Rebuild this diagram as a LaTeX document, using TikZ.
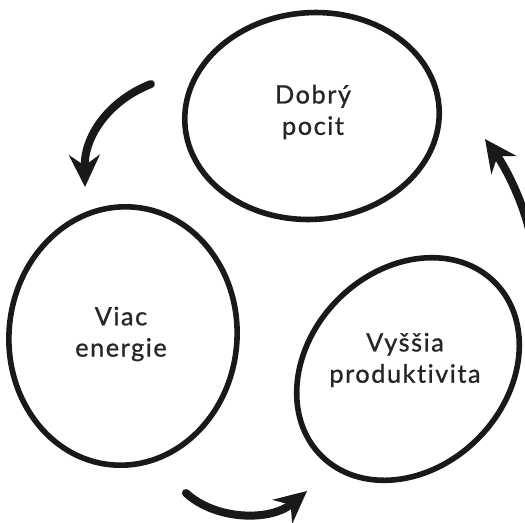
\documentclass[tikz,border=0pt]{standalone}
\usepackage{fontspec}
\setmainfont{Lato}[LetterSpace=6,FakeBold=0.9,Ligatures={NoCommon,NoRare}]
\usetikzlibrary{shapes.geometric,arrows.meta}

\begin{document}
\begin{tikzpicture}[x=0.75pt,y=-0.75pt]
	\tikzstyle{cycle_node}=[draw=black!90,ellipse,line width=4.2pt,inner sep=0pt]
	\tikzstyle{cycle_text}=[align=center,text=black!85,font=\fontsize{19}{23.5}\selectfont]
	\tikzstyle{cycle_arrow}=[line width=6pt,black!90,line cap=round,-{Stealth[length=24pt,width=23pt,inset=8pt]}]
	\clip (0,0) rectangle (525,522);
	\node [cycle_node,minimum width=191pt,minimum height=155pt,rotate=4] (d) at (312,116) {};
	\node [cycle_node,minimum width=171pt,minimum height=194pt,rotate=-5] (v) at (123,336) {};
	\node [cycle_node,minimum width=184pt,minimum height=148pt,rotate=45] (p) at (408,369) {};
	\node [cycle_text] (dt) at (313,112) {Dobrý\\pocit};
	\node [cycle_text] (vt) at (121,334) {Viac\\energie};
	\node [cycle_text] (pt) at (405,360) {Vyššia\\produktivita};
	\coordinate (s1) at (151,84);
	\coordinate (e1) at (85,187);
	\coordinate (s2) at (186,493);
	\coordinate (e2) at (307,491);
	\coordinate (s3) at (533,250);
	\coordinate (e3) at (485,139);
	\draw [cycle_arrow] (s1) .. controls (110,100) and (84,135) .. (e1);
	\draw [cycle_arrow] (s2) .. controls (215,520) and (270,522) .. (e2);
	\draw [cycle_arrow] (s3) .. controls (528,210) and (506,168) .. (e3);
\end{tikzpicture}
\end{document}
